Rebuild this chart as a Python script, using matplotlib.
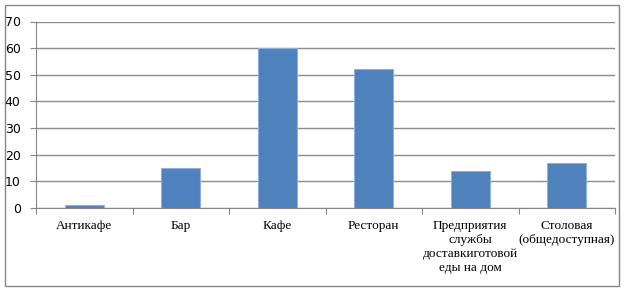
import numpy as np
import matplotlib.pyplot as plt
from matplotlib.patches import Rectangle

categories = ["Антикафе", "Бар", "Кафе", "Ресторан",
              "Предприятия\nслужбы\nдоставкиготовой\nеды на дом",
              "Столовая\n(общедоступная)"]
values = [1, 15, 60, 52, 14, 17]
y_ticks = [0, 10, 20, 30, 40, 50, 60, 70]

W, H = 625, 292
fig = plt.figure(figsize=(W / 100, H / 100), dpi=100)

# рамка вокруг диаграммы
fig.patches.append(Rectangle((5 / W, 6 / H), 614 / W, 281 / H, transform=fig.transFigure,
                             fill=False, edgecolor='#868686', linewidth=1.0))

ax = fig.add_axes([36 / W, 1 - 208 / H, 579 / W, 186.5 / H])
x = np.arange(len(categories))
ax.bar(x, values, width=0.4, color='#4f81bd', edgecolor='#8fb0d8', linewidth=0.8, zorder=3)

ax.set_xlim(-0.5, len(categories) - 0.5)
ax.set_ylim(0, 70)
ax.set_yticks(y_ticks)
ax.set_yticklabels([str(v) for v in y_ticks], fontsize=9, family='DejaVu Sans')
ax.yaxis.grid(True, color='#8c8c8c', linewidth=1.0, zorder=0)
ax.tick_params(axis='y', length=4, color='#868686', pad=7)

# подписи категорий по центрам, засечки по границам
ax.set_xticks(np.arange(len(categories) + 1) - 0.5)
ax.set_xticklabels([])
ax.tick_params(axis='x', length=4, color='#868686', direction='out')
for xi, lab in zip(x, categories):
    ax.text(xi, -4.6, lab, ha='center', va='top', fontsize=9.5,
            family='Liberation Serif', linespacing=1.22)

for side in ['top', 'right']:
    ax.spines[side].set_visible(False)
for side in ['left', 'bottom']:
    ax.spines[side].set_color('#868686')

fig.savefig('out.png', dpi=100)
